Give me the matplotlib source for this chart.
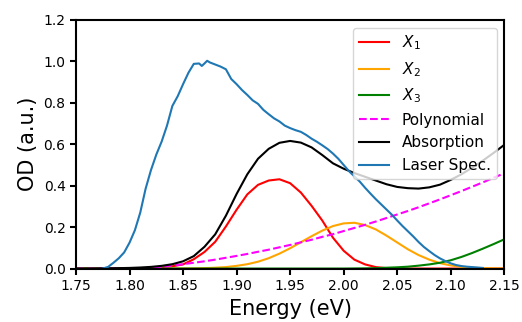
import matplotlib
matplotlib.use("Agg")
import matplotlib.pyplot as plt
import numpy as np

# Energy grid for the fitted components (eV)
energy = [1.75, 1.76, 1.77, 1.78, 1.79, 1.80, 1.81, 1.82, 1.83, 1.84,
          1.85, 1.86, 1.87, 1.88, 1.89, 1.90, 1.91, 1.92, 1.93, 1.94,
          1.95, 1.96, 1.97, 1.98, 1.99, 2.00, 2.01, 2.02, 2.03, 2.04,
          2.05, 2.06, 2.07, 2.08, 2.09, 2.10, 2.11, 2.12, 2.13, 2.14, 2.15]

x1 = [0, 0, 0, 0, 0, 0, 0.001, 0.002, 0.005, 0.011,
      0.020, 0.045, 0.080, 0.129, 0.203, 0.284, 0.358, 0.404, 0.425, 0.431,
      0.412, 0.367, 0.303, 0.232, 0.149, 0.086, 0.043, 0.020, 0.007, 0.002,
      0.0005, 0, 0, 0, 0, 0, 0, 0, 0, 0, 0]

x2 = [0, 0, 0, 0, 0, 0, 0, 0, 0, 0,
      0.0005, 0.001, 0.002, 0.004, 0.007, 0.013, 0.021, 0.033, 0.050, 0.072,
      0.098, 0.127, 0.156, 0.183, 0.205, 0.218, 0.221, 0.210, 0.189, 0.159,
      0.126, 0.093, 0.065, 0.043, 0.026, 0.015, 0.008, 0.004, 0.002, 0.001, 0.0005]

x3 = [0, 0, 0, 0, 0, 0, 0, 0, 0, 0,
      0, 0, 0, 0, 0, 0, 0, 0, 0, 0,
      0, 0, 0, 0, 0, 0, 0.0005, 0.001, 0.002, 0.004,
      0.006, 0.009, 0.014, 0.020, 0.028, 0.040, 0.056, 0.075, 0.096, 0.118, 0.141]

poly = [0, 0, 0, 0, 0, 0, 0, 0.003, 0.0085, 0.014,
        0.021, 0.028, 0.035, 0.043, 0.052, 0.061, 0.0705, 0.081, 0.091, 0.1025,
        0.114, 0.1265, 0.139, 0.153, 0.166, 0.181, 0.196, 0.211, 0.227, 0.244,
        0.261, 0.278, 0.296, 0.315, 0.334, 0.354, 0.374, 0.395, 0.416, 0.438, 0.460]

absorption = [0, 0, 0.0005, 0.001, 0.002, 0.003, 0.005, 0.008, 0.013, 0.021,
              0.035, 0.060, 0.105, 0.165, 0.255, 0.360, 0.455, 0.530, 0.578, 0.607,
              0.616, 0.608, 0.585, 0.548, 0.508, 0.482, 0.461, 0.443, 0.425, 0.407,
              0.394, 0.388, 0.386, 0.392, 0.405, 0.428, 0.455, 0.487, 0.521, 0.558, 0.597]

# Laser spectrum
laser_e = [1.775, 1.780, 1.785, 1.790, 1.795, 1.800, 1.805, 1.810, 1.815, 1.820,
           1.825, 1.830, 1.835, 1.840, 1.845, 1.850, 1.855, 1.860, 1.865, 1.8675,
           1.870, 1.8725, 1.875, 1.880, 1.885, 1.890, 1.895, 1.900, 1.905, 1.910,
           1.915, 1.920, 1.925, 1.930, 1.935, 1.940, 1.945, 1.950, 1.955, 1.960,
           1.965, 1.970, 1.975, 1.980, 1.985, 1.990, 1.995, 2.000, 2.005, 2.010,
           2.015, 2.020, 2.025, 2.030, 2.035, 2.040, 2.045, 2.050, 2.055, 2.060,
           2.065, 2.070, 2.075, 2.080, 2.085, 2.090, 2.095, 2.100, 2.105, 2.110,
           2.115, 2.120, 2.125, 2.130]
laser = [0.0, 0.008, 0.028, 0.050, 0.078, 0.125, 0.185, 0.270, 0.385, 0.475,
         0.550, 0.613, 0.690, 0.785, 0.832, 0.890, 0.945, 0.988, 0.990, 0.978,
         0.990, 1.003, 0.995, 0.985, 0.975, 0.962, 0.915, 0.890, 0.862, 0.838,
         0.812, 0.795, 0.766, 0.745, 0.725, 0.710, 0.690, 0.678, 0.668, 0.660,
         0.645, 0.627, 0.612, 0.595, 0.577, 0.555, 0.530, 0.500, 0.470, 0.445,
         0.420, 0.390, 0.362, 0.335, 0.310, 0.285, 0.260, 0.232, 0.205, 0.180,
         0.155, 0.128, 0.104, 0.084, 0.065, 0.049, 0.036, 0.025, 0.017, 0.012,
         0.009, 0.007, 0.005, 0.003]

xticks = [1.75, 1.80, 1.85, 1.90, 1.95, 2.00, 2.05, 2.10, 2.15]
yticks = [0.0, 0.2, 0.4, 0.6, 0.8, 1.0, 1.2]

fig = plt.figure(figsize=(5.22, 3.22), dpi=100)
ax = fig.add_axes([0.1456, 0.166, 0.8204, 0.772])

ax.plot(energy, x1, color='red', lw=1.5, label=r'$X_1$')
ax.plot(energy, x2, color='orange', lw=1.5, label=r'$X_2$')
ax.plot(energy, x3, color='green', lw=1.5, label=r'$X_3$')
ax.plot(energy, poly, color='magenta', lw=1.5, ls='--', label='Polynomial')
ax.plot(energy, absorption, color='black', lw=1.5, label='Absorption')
ax.plot(laser_e, laser, color='#1f77b4', lw=1.5, label='Laser Spec.')

ax.set_xlim(1.75, 2.15)
ax.set_ylim(0, 1.2)
ax.set_xticks(xticks)
ax.set_xticklabels([f'{t:.2f}' for t in xticks])
ax.set_yticks(yticks)
ax.set_yticklabels([f'{t:.1f}' for t in yticks])
ax.tick_params(labelsize=10, width=1.5, length=4)
for s in ax.spines.values():
    s.set_linewidth(1.5)
ax.set_xlabel('Energy (eV)', fontsize=15)
ax.set_ylabel('OD (a.u.)', fontsize=15)
ax.legend(loc='upper right', fontsize=11)

fig.savefig('out.png', dpi=100)
